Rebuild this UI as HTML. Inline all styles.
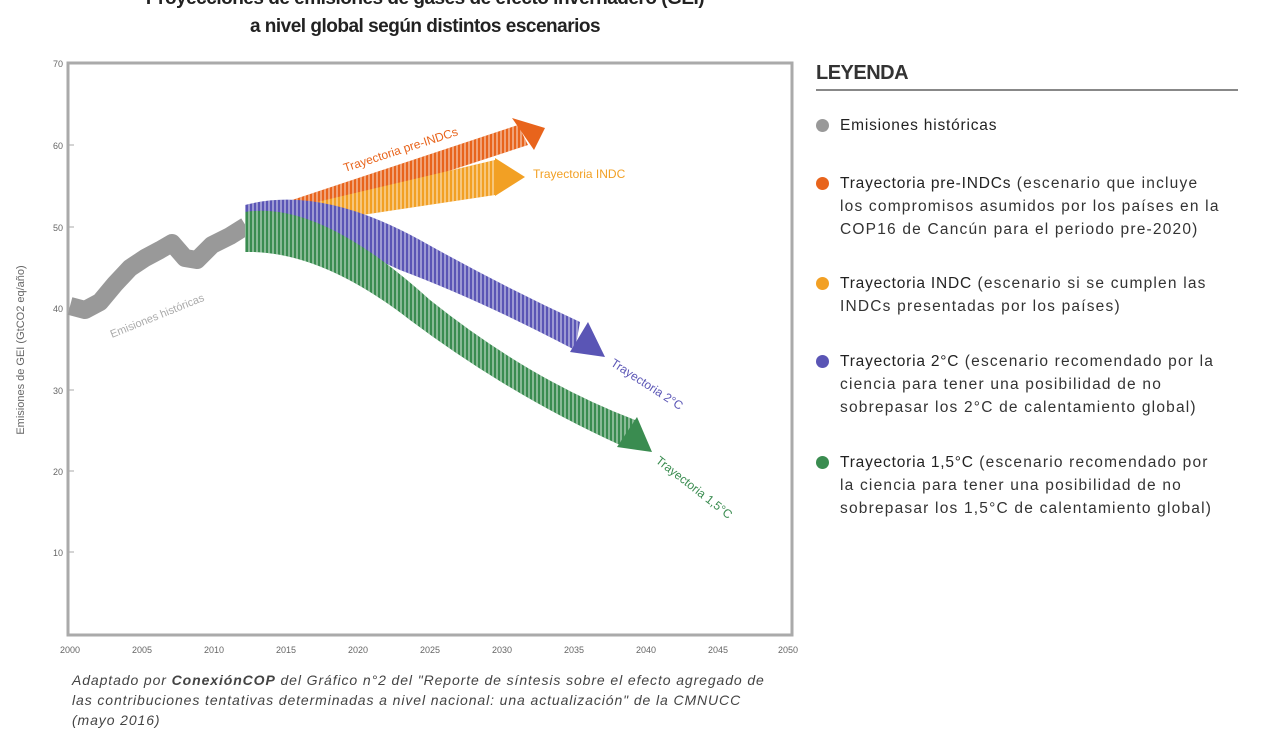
<!DOCTYPE html>
<html><head><meta charset="utf-8"><style>
body{margin:0;width:1280px;height:720px;background:#fff;overflow:hidden;font-family:"Liberation Sans",sans-serif;position:relative}
.t{position:absolute;left:0;width:850px;text-align:center;font-weight:bold;font-size:19px;color:#222;letter-spacing:-0.5px}
.leg{position:absolute;left:816px;color:#333}
.li{position:absolute;left:840px;font-size:15.5px;line-height:23px;color:#333;letter-spacing:1.2px;width:384px}
.li b{font-weight:normal;color:#222;letter-spacing:0.8px}
.dot{position:absolute;left:816px;width:13px;height:13px;border-radius:50%}
.cap{position:absolute;left:72px;top:670px;font-style:italic;font-size:14px;color:#444;line-height:20px;letter-spacing:0.9px;width:705px}
</style></head><body>
<div class="t" style="top:-12px">Proyecciones de emisiones de gases de efecto invernadero (GEI)</div>
<div class="t" style="top:16px">a nivel global según distintos escenarios</div>

<svg width="1280" height="720" style="position:absolute;left:0;top:0">
<defs>
<pattern id="st" width="4" height="4" patternUnits="userSpaceOnUse"><rect width="2" height="4" fill="#fff" opacity="0.4"/></pattern>
</defs>
<rect x="68" y="63" width="724" height="572" fill="none" stroke="#aaa" stroke-width="3"/>
<g stroke="#aaa" stroke-width="1">
<line x1="68" y1="145" x2="74" y2="145"/><line x1="68" y1="227" x2="74" y2="227"/><line x1="68" y1="308" x2="74" y2="308"/><line x1="68" y1="390" x2="74" y2="390"/><line x1="68" y1="471" x2="74" y2="471"/><line x1="68" y1="552" x2="74" y2="552"/>
</g>
<g font-size="9" fill="#666" text-anchor="end">
<text x="63" y="67">70</text><text x="63" y="149">60</text><text x="63" y="231">50</text><text x="63" y="312">40</text><text x="63" y="394">30</text><text x="63" y="475">20</text><text x="63" y="556">10</text>
</g>
<g font-size="9" fill="#666" text-anchor="middle">
<text x="70" y="653">2000</text><text x="142" y="653">2005</text><text x="214" y="653">2010</text><text x="286" y="653">2015</text><text x="358" y="653">2020</text><text x="430" y="653">2025</text><text x="502" y="653">2030</text><text x="574" y="653">2035</text><text x="646" y="653">2040</text><text x="718" y="653">2045</text><text x="788" y="653">2050</text>
</g>
<text transform="translate(24,350) rotate(-90)" font-size="11" fill="#666" text-anchor="middle">Emisiones de GEI (GtCO2 eq/año)</text>

<polyline points="70,306 85,310 100,302 115,284 130,268 145,258 160,250 172,243 185,258 197,260 212,245 230,236 246,226" fill="none" stroke="#999" stroke-width="18" stroke-linejoin="round"/>
<text transform="translate(112,338) rotate(-22)" font-size="11" fill="#aaa">Emisiones históricas</text>

<polygon points="262,210 518,125 528,145 262,232" fill="#e8641c"/>
<polygon points="262,210 518,125 528,145 262,232" fill="url(#st)"/>
<polygon points="512,118 545,128 534,150" fill="#e8641c"/>
<text transform="translate(345,172) rotate(-18)" font-size="12" fill="#e8641c">Trayectoria pre-INDCs</text>
<polygon points="262,215 495,160 495,195 262,230" fill="#f2a024"/>
<polygon points="262,215 495,160 495,195 262,230" fill="url(#st)"/>
<polygon points="495,158 525,177 495,196" fill="#f2a024"/>
<text x="533" y="178" font-size="12" fill="#f2a024">Trayectoria INDC</text>

<path d="M245,205 Q320,185 420,240 Q500,285 580,322 L575,350 Q480,300 400,270 Q320,232 245,245 Z" fill="#5a55b5"/>
<path d="M245,205 Q320,185 420,240 Q500,285 580,322 L575,350 Q480,300 400,270 Q320,232 245,245 Z" fill="url(#st)"/>
<polygon points="588,322 570,352 605,357" fill="#5a55b5"/>
<text transform="translate(610,365) rotate(33)" font-size="12" fill="#5a55b5">Trayectoria 2°C</text>

<path d="M245,212 Q320,200 430,300 Q530,380 635,420 L620,445 Q510,395 410,320 Q320,250 245,252 Z" fill="#3a8c50"/>
<path d="M245,212 Q320,200 430,300 Q530,380 635,420 L620,445 Q510,395 410,320 Q320,250 245,252 Z" fill="url(#st)"/>
<polygon points="637,417 617,447 652,452" fill="#3a8c50"/>
<text transform="translate(655,462) rotate(38)" font-size="12" fill="#3a8c50">Trayectoria 1,5°C</text>

<line x1="816" y1="90" x2="1238" y2="90" stroke="#888" stroke-width="2"/>
</svg>

<div class="leg" style="top:62px;font-size:20px;font-weight:bold;letter-spacing:-0.5px">LEYENDA</div>
<div class="dot" style="top:119px;background:#999"></div>
<div class="li" style="top:114px"><b>Emisiones históricas</b></div>
<div class="dot" style="top:177px;background:#e8641c"></div>
<div class="li" style="top:172px"><b>Trayectoria pre-INDCs</b> (escenario que incluye los compromisos asumidos por los países en la COP16 de Cancún para el periodo pre-2020)</div>
<div class="dot" style="top:277px;background:#f2a024"></div>
<div class="li" style="top:272px"><b>Trayectoria INDC</b> (escenario si se cumplen las INDCs presentadas por los países)</div>
<div class="dot" style="top:355px;background:#5a55b5"></div>
<div class="li" style="top:350px"><b>Trayectoria 2°C</b> (escenario recomendado por la ciencia para tener una posibilidad de no sobrepasar los 2°C de calentamiento global)</div>
<div class="dot" style="top:456px;background:#3a8c50"></div>
<div class="li" style="top:451px"><b>Trayectoria 1,5°C</b> (escenario recomendado por la ciencia para tener una posibilidad de no sobrepasar los 1,5°C de calentamiento global)</div>

<div class="cap">Adaptado por <b>ConexiónCOP</b> del Gráfico n°2 del "Reporte de síntesis sobre el efecto agregado de las contribuciones tentativas determinadas a nivel nacional: una actualización" de la CMNUCC (mayo 2016)</div>
</body></html>
